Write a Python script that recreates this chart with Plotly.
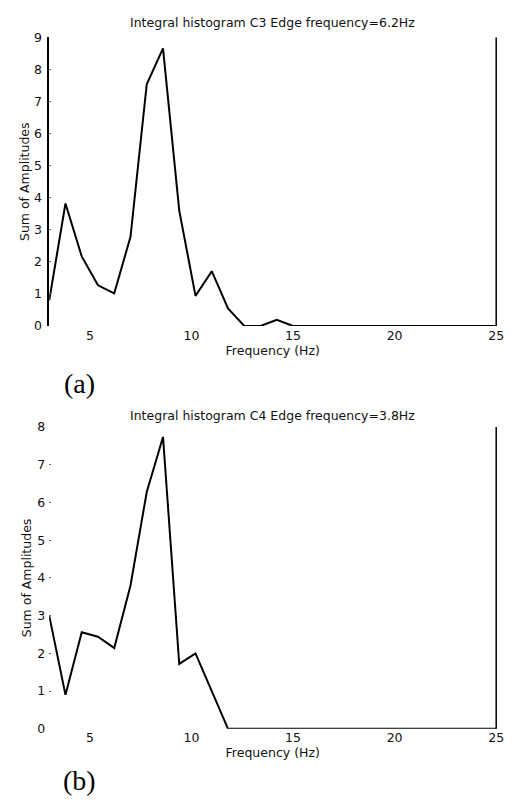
import plotly.graph_objects as go

# Frequency bins (Hz) shared by both channels
freq = [3.0, 3.8, 4.6, 5.4, 6.2, 7.0, 7.8, 8.6, 9.4, 10.2, 11.0, 11.8, 12.6,
        13.4, 14.2, 15.0, 15.8, 16.6, 17.4, 18.2, 19.0, 19.8, 20.6, 21.4,
        22.2, 23.0, 23.8, 24.6, 25.4]

# Integral histogram, channel C3
sum_c3 = [0.8, 3.82, 2.17, 1.27, 1.02, 2.78, 7.54, 8.66, 3.6, 0.94, 1.71, 0.55,
          0.0, 0.0, 0.19, 0.0, 0.0, 0.0, 0.0, 0.0, 0.0, 0.0, 0.0, 0.0,
          0.0, 0.0, 0.0, 0.0, 0.0]

# Integral histogram, channel C4
sum_c4 = [3.0, 0.9, 2.56, 2.44, 2.14, 3.8, 6.28, 7.74, 1.72, 2.0, 1.0, 0.0,
          0.0, 0.0, 0.0, 0.0, 0.0, 0.0, 0.0, 0.0, 0.0, 0.0, 0.0, 0.0,
          0.0, 0.0, 0.0, 0.0, 0.0]

titles = ["Integral histogram C3 Edge frequency=6.2Hz",
          "Integral histogram C4 Edge frequency=3.8Hz"]
panel_tags = ["(a)", "(b)"]
x_ticks = [5, 10, 15, 20, 25]

W, H = 517, 811
FONT = "DejaVu Sans"
INK = "#111111"

fig = go.Figure()
fig.add_trace(go.Scatter(x=freq, y=sum_c3, mode="lines", xaxis="x", yaxis="y",
                         line=dict(color="black", width=2), showlegend=False))
fig.add_trace(go.Scatter(x=freq, y=sum_c4, mode="lines", xaxis="x2", yaxis="y2",
                         line=dict(color="black", width=2), showlegend=False))

xdom = [50 / W, 504 / W]
ydom_a = [1 - 324 / H, 1 - 30 / H]
ydom_b = [1 - 734.4 / H, 1 - 427 / H]

tickfont = dict(family=FONT, size=12.5, color=INK)
titlefont = dict(family=FONT, size=12.5, color=INK)

def xaxis_main(anchor):
    return dict(domain=xdom, range=[3, 25], anchor=anchor, tickvals=x_ticks,
                ticks="", showline=False, showgrid=False, zeroline=False,
                tickfont=tickfont,
                title=dict(text="Frequency (Hz)", font=titlefont, standoff=0))

def yaxis_main(dom, anchor, top, showline):
    return dict(domain=dom, range=[0, top], anchor=anchor,
                tickvals=list(range(0, top + 1)), ticks="inside", ticklen=2,
                tickcolor="#666666", showline=showline, linecolor="black",
                linewidth=1.5, showgrid=False, zeroline=False,
                tickfont=tickfont, ticklabelstandoff=3,
                title=dict(text="Sum of Amplitudes", font=titlefont, standoff=2))

def tick_overlay(over, anchor, side, vals):
    return dict(overlaying=over, anchor=anchor, side=side, range=[3, 25],
                domain=xdom, tickvals=vals, ticks="inside", ticklen=4,
                tickcolor="#222222", showticklabels=False, showline=False,
                showgrid=False, zeroline=False)

fig.update_layout(
    width=W, height=H,
    margin=dict(l=0, r=0, t=0, b=0),
    paper_bgcolor="white", plot_bgcolor="white",
    xaxis=xaxis_main("y"),
    yaxis=yaxis_main(ydom_a, "x", 9, True),
    xaxis2=xaxis_main("y2"),
    yaxis2=yaxis_main(ydom_b, "x2", 8, False),
    # small tick marks along the top and bottom edges
    xaxis3=tick_overlay("x", "y", "top", [5, 10, 15, 20]),
    xaxis4=tick_overlay("x", "y", "bottom", [15, 20]),
    xaxis5=tick_overlay("x2", "y2", "top", [15, 20]),
    xaxis6=tick_overlay("x2", "y2", "bottom", [15, 20]),
)

# right-hand frame edges
for xr, yr in [("x", "y"), ("x2", "y2")]:
    fig.add_shape(type="line", xref=f"{xr} domain", yref=f"{yr} domain",
                  x0=1, x1=1, y0=0, y1=1, line=dict(color="black", width=1.5))

# panel titles
for text, ypx in zip(titles, [15, 415]):
    fig.add_annotation(text=text, xref="paper", yref="paper",
                       x=(xdom[0] + xdom[1]) / 2, y=1 - ypx / H,
                       xanchor="center", yanchor="middle", showarrow=False,
                       font=dict(family=FONT, size=12.5, color=INK))

# panel tags
for text, ypx in zip(panel_tags, [383, 787]):
    fig.add_annotation(text=text, xref="paper", yref="paper",
                       x=81 / W, y=1 - ypx / H, xanchor="center",
                       yanchor="middle", showarrow=False,
                       font=dict(family="Liberation Serif", size=28, color="black"))

fig.write_html("out.html")
